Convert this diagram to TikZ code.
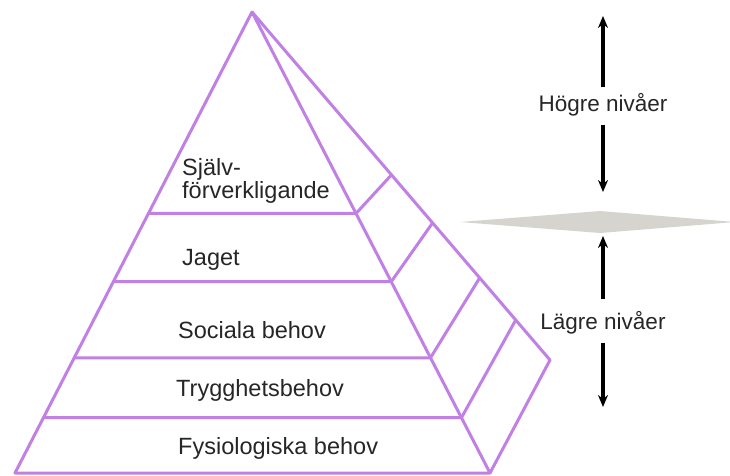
\documentclass[tikz,border=0pt]{standalone}
\usepackage{fontspec}
\setmainfont{Liberation Sans}
\usetikzlibrary{calc,positioning,arrows.meta}
\definecolor{pyrviolet}{RGB}{192,128,228}
\definecolor{lensgray}{RGB}{214,212,206}
\tikzset{
  >={Stealth[length=12pt,width=10pt]},
  edge/.style={draw=pyrviolet, line width=3pt, line join=round},
  level/.style={anchor=west, inner sep=0pt, text=black!85,
    font=\fontsize{23.5}{23}\selectfont, align=left},
  side/.style={inner sep=0pt, text=black!85,
    font=\fontsize{22.5}{27}\selectfont},
  arrowline/.style={draw=black, line width=3.4pt, ->},
}
\begin{document}
\begin{tikzpicture}[x=1pt,y=-1pt]
  \useasboundingbox (0,0) rectangle (730,475);
  % pyramid corners
  \coordinate (apex) at (252,12);
  \coordinate (bl) at (15,473);
  \coordinate (br) at (490,473);
  \coordinate (bc) at (550,360);

  % faces
  \draw[edge] (apex) -- (bl) -- (br) -- cycle;
  \draw[edge] (apex) -- (bc) -- (br);
  % level boundaries, front and side
  \foreach \t/\s in {0.437/0.468, 0.585/0.606, 0.75/0.764, 0.88/0.885}
    \draw[edge] ($(apex)!\t!(bl)$) -- ($(apex)!\t!(br)$) -- ($(apex)!\s!(bc)$);

  % level labels
  \node[level] (self) at (182,181) {Själv-\\förverkligande};
  \node[level] (ego) at (182,260) {Jaget};
  \node[level] (social) at (178,330) {Sociala behov};
  \node[level] (safety) at (176,390) {Trygghetsbehov};
  \node[level] (physio) at (178,448) {Fysiologiska behov};

  % divider between higher and lower levels
  \fill[lensgray] (460,222) -- (600,211) -- (735,222) -- (600,233) -- cycle;

  % right-hand scale
  \node[side] (higher) at (603,105) {Högre nivåer};
  \node[side] (lower) at (603,323) {Lägre nivåer};
  \coordinate (hightop) at (603,16);
  \coordinate (highbot) at (603,192);
  \coordinate (lowtop) at (603,236);
  \coordinate (lowbot) at (603,407);
  \draw[arrowline] ([yshift=6pt]higher.north) -- (hightop);
  \draw[arrowline] ([yshift=-8pt]higher.south) -- (highbot);
  \draw[arrowline] ([yshift=12pt]lower.north) -- (lowtop);
  \draw[arrowline] ([yshift=-8pt]lower.south) -- (lowbot);
\end{tikzpicture}
\end{document}
